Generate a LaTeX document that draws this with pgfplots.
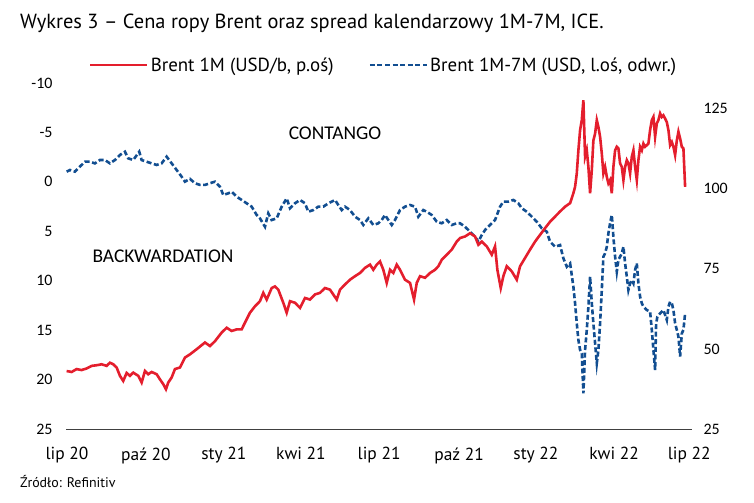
\documentclass[border=0pt]{standalone}
\usepackage{pgfplots}
\pgfplotsset{compat=1.18}
\usepackage{fontspec}
\setmainfont{PT Sans}
\newfontfamily\carl{Carlito}
\definecolor{ingred}{RGB}{228,30,45}
\definecolor{ingblue}{RGB}{18,78,145}
\begin{document}
\begin{tikzpicture}
\path[use as bounding box] (0,0) rectangle (754bp,503bp);
% title & source
\node[anchor=base west, inner sep=0pt, font=\fontsize{20.5}{20.5}\selectfont] at (20bp,474bp) {Wykres 3 – Cena ropy Brent oraz spread kalendarzowy 1M-7M, ICE.};
\node[anchor=base west, inner sep=0pt, font=\fontsize{14}{14}\selectfont] at (20bp,16bp) {Źródło: Refinitiv};
\begin{axis}[
  at={(66bp,74bp)}, anchor=south west,
  scale only axis, width=626bp, height=346bp,
  xmin=0.12, xmax=24.47,
  ymin=-10, ymax=25, y dir=reverse,
  axis x line*=bottom, axis y line*=left,
  x axis line style={draw=black!75, line width=0.9bp, -},
  y axis line style={draw=none},
  xtick={0.16,3.23,6.26,9.26,12.3,15.41,18.4,21.44,24.36},
  xticklabels={lip 20,paź 20,sty 21,kwi 21,lip 21,paź 21,sty 22,kwi 22,lip 22},
  ytick={-10,-5,0,5,10,15,20,25},
  yticklabels={-10,-5,0,5,10,15,20,25},
  major tick length=0pt,
  xticklabel style={font=\fontsize{17.5}{17.5}\selectfont, yshift=-15bp},
  yticklabel style={font=\carl\fontsize{16}{16}\selectfont, anchor=east, xshift=-10bp},
  legend style={draw=none, fill=none, at={(0.0367,1.052)}, anchor=west, inner sep=0pt,
     font=\fontsize{19}{19}\selectfont, legend columns=2,
     /tikz/every even column/.append style={column sep=33bp}},
  legend image code/.code={\draw[#1] (0bp,0bp) -- (57bp,0bp);},
  clip=false,
]
\addlegendimage{ingred, line width=2.6bp}
\addlegendentry{Brent 1M (USD/b, p.oś)}
\addplot[ingblue, line width=2.6bp, dash pattern=on 5bp off 2.6bp] table {
0.144 -1.03
0.272 -1.20
0.467 -1.03
0.595 -1.37
0.728 -1.71
0.856 -2.04
1.051 -2.04
1.245 -1.87
1.440 -2.21
1.634 -2.21
1.829 -1.87
2.023 -2.21
2.218 -2.72
2.412 -3.05
2.541 -2.38
2.735 -2.21
2.969 -3.05
3.062 -2.21
3.257 -2.04
3.451 -1.87
3.646 -1.71
3.840 -1.87
4.035 -2.55
4.230 -1.87
4.424 -1.20
4.619 -0.52
4.747 -0.02
4.942 -0.30
5.136 0.14
5.331 0.31
5.525 0.31
5.720 0.14
5.914 -0.02
6.109 0.49
6.237 1.33
6.432 1.16
6.564 1.00
6.759 1.50
6.953 1.83
7.148 2.17
7.342 2.51
7.537 3.35
7.665 3.69
7.860 4.54
7.988 3.19
8.121 3.86
8.315 3.69
8.510 2.51
8.704 1.67
8.833 2.67
9.027 2.17
9.222 1.83
9.416 2.17
9.545 3.02
9.739 2.85
9.934 2.51
10.128 2.51
10.323 2.17
10.584 1.83
10.712 2.34
10.844 2.85
10.973 2.51
11.167 2.85
11.362 3.52
11.556 3.86
11.685 4.36
11.879 3.69
12.074 4.36
12.268 4.19
12.401 3.86
12.529 3.35
12.658 3.86
12.790 4.36
12.918 3.86
13.113 2.85
13.307 2.51
13.502 2.34
13.696 2.51
13.825 3.52
14.019 2.85
14.152 3.02
14.346 3.35
14.541 4.03
14.735 4.19
14.930 3.86
15.125 4.36
15.319 4.19
15.447 4.19
15.642 4.54
15.837 5.04
16.031 5.55
16.160 6.05
16.292 5.38
16.420 4.87
16.615 4.36
16.809 3.86
17.004 2.51
17.132 2.00
17.327 2.00
17.521 1.83
17.716 2.17
17.848 2.67
18.043 3.02
18.237 3.52
18.432 4.03
18.626 4.70
18.821 5.04
18.949 6.05
19.144 6.56
19.339 6.39
19.467 7.73
19.599 8.58
19.728 8.24
19.856 10.60
19.922 12.29
19.988 14.31
20.051 16.00
20.117 17.00
20.183 17.35
20.245 21.40
20.311 17.00
20.377 14.98
20.440 12.63
20.506 9.59
20.572 12.28
20.634 14.31
20.700 16.33
20.767 18.35
20.829 17.00
20.895 14.31
20.961 10.94
21.023 7.57
21.089 7.23
21.156 6.56
21.218 5.20
21.284 4.19
21.350 3.35
21.412 5.55
21.479 7.57
21.545 9.09
21.607 7.90
21.673 7.57
21.739 7.23
21.802 6.56
21.868 8.24
21.934 9.59
21.996 10.94
22.062 10.26
22.128 9.93
22.191 10.26
22.257 8.91
22.323 8.24
22.385 10.26
22.451 11.62
22.518 12.28
22.580 12.63
22.712 12.96
22.840 13.13
22.907 14.98
22.969 17.00
23.035 19.03
23.074 14.31
23.125 13.64
23.230 13.30
23.358 12.96
23.490 13.97
23.553 12.63
23.619 12.12
23.685 12.28
23.747 12.96
23.813 14.31
23.880 14.98
23.942 15.66
24.008 17.68
24.074 15.32
24.136 14.98
24.202 13.30
};
\addlegendentry{Brent 1M-7M (USD, l.oś, odwr.)}
\end{axis}
\begin{axis}[
  at={(66bp,74bp)}, anchor=south west,
  scale only axis, width=626bp, height=346bp,
  xmin=0.12, xmax=24.47,
  ymin=25, ymax=133,
  axis x line=none, axis y line*=right,
  y axis line style={draw=none},
  ytick={25,50,75,100,125},
  major tick length=0pt,
  yticklabel style={font=\carl\fontsize{16}{16}\selectfont, anchor=west, xshift=8bp},
  yticklabels={25,50,75,100,125},
]
\addplot[ingred, line width=2.6bp] table {
0.144 43.1
0.339 42.8
0.533 43.7
0.728 43.4
0.922 43.9
1.117 44.7
1.311 44.9
1.506 45.2
1.700 44.7
1.829 45.7
1.957 45.2
2.089 44.2
2.218 41.6
2.346 40.0
2.479 42.5
2.607 41.6
2.735 42.6
2.930 41.6
3.062 39.5
3.191 43.1
3.319 42.1
3.451 42.8
3.646 42.1
3.774 40.5
3.903 39.0
4.008 37.4
4.097 39.5
4.230 41.1
4.358 43.7
4.553 44.2
4.747 47.3
4.942 48.3
5.202 49.9
5.525 52.0
5.720 50.9
5.914 52.4
6.175 55.1
6.370 56.6
6.564 55.6
6.759 56.1
6.953 56.1
7.082 58.2
7.276 61.3
7.471 63.3
7.665 64.9
7.794 67.5
7.926 65.4
8.121 69.0
8.249 69.5
8.377 68.5
8.572 64.4
8.704 61.3
8.833 64.9
9.027 64.4
9.222 62.8
9.416 65.9
9.611 65.4
9.805 67.0
10.000 67.5
10.194 69.0
10.389 68.5
10.650 65.4
10.778 68.5
10.973 70.1
11.167 71.6
11.362 72.7
11.556 73.7
11.751 75.3
11.946 76.3
12.074 74.7
12.206 76.3
12.335 77.3
12.463 74.7
12.595 70.6
12.724 74.7
12.852 73.7
12.984 76.3
13.113 74.7
13.307 71.6
13.502 70.6
13.658 65.4
13.763 70.6
13.891 72.7
14.086 72.2
14.280 73.7
14.475 74.7
14.603 75.8
14.735 77.8
14.930 79.4
15.125 81.0
15.319 83.5
15.447 84.6
15.642 85.1
15.837 86.1
16.031 85.1
16.160 82.5
16.292 83.5
16.486 82.0
16.681 79.4
16.809 82.0
16.899 74.7
17.031 69.0
17.132 72.7
17.265 75.8
17.459 74.2
17.654 71.6
17.782 75.8
17.977 78.4
18.171 81.0
18.366 83.5
18.560 85.6
18.755 87.7
18.949 89.7
19.144 91.3
19.339 92.9
19.533 94.4
19.728 95.5
19.856 98.6
19.922 100.6
19.988 104.8
20.051 112.0
20.117 118.3
20.183 121.4
20.245 127.6
20.311 110.0
20.377 112.0
20.440 106.8
20.506 98.6
20.572 105.8
20.634 115.1
20.700 117.2
20.767 121.4
20.829 119.3
20.895 116.2
20.961 111.0
21.023 104.8
21.089 106.8
21.156 103.7
21.218 101.7
21.284 102.7
21.350 98.6
21.412 106.8
21.479 112.0
21.545 113.1
21.607 112.6
21.673 107.9
21.739 106.8
21.802 102.7
21.868 106.8
21.934 108.9
21.996 107.9
22.062 104.8
22.128 110.0
22.191 112.0
22.257 106.8
22.323 102.7
22.385 108.9
22.451 113.1
22.518 112.0
22.580 114.1
22.646 113.1
22.712 113.6
22.774 114.1
22.840 118.3
22.907 121.4
22.969 122.4
23.035 116.2
23.101 120.4
23.163 121.4
23.230 123.5
23.296 122.4
23.358 122.9
23.424 121.9
23.490 120.8
23.553 118.3
23.619 113.6
23.685 114.6
23.747 113.1
23.813 110.5
23.880 115.1
23.942 117.8
24.008 115.7
24.074 113.1
24.136 112.6
24.202 100.6
};
\end{axis}
\node[font=\carl\fontsize{19.5}{19.5}\selectfont] at (335bp,370bp) {CONTANGO};
\node[font=\carl\fontsize{19.5}{19.5}\selectfont] at (163bp,247bp) {BACKWARDATION};
\end{tikzpicture}
\end{document}
